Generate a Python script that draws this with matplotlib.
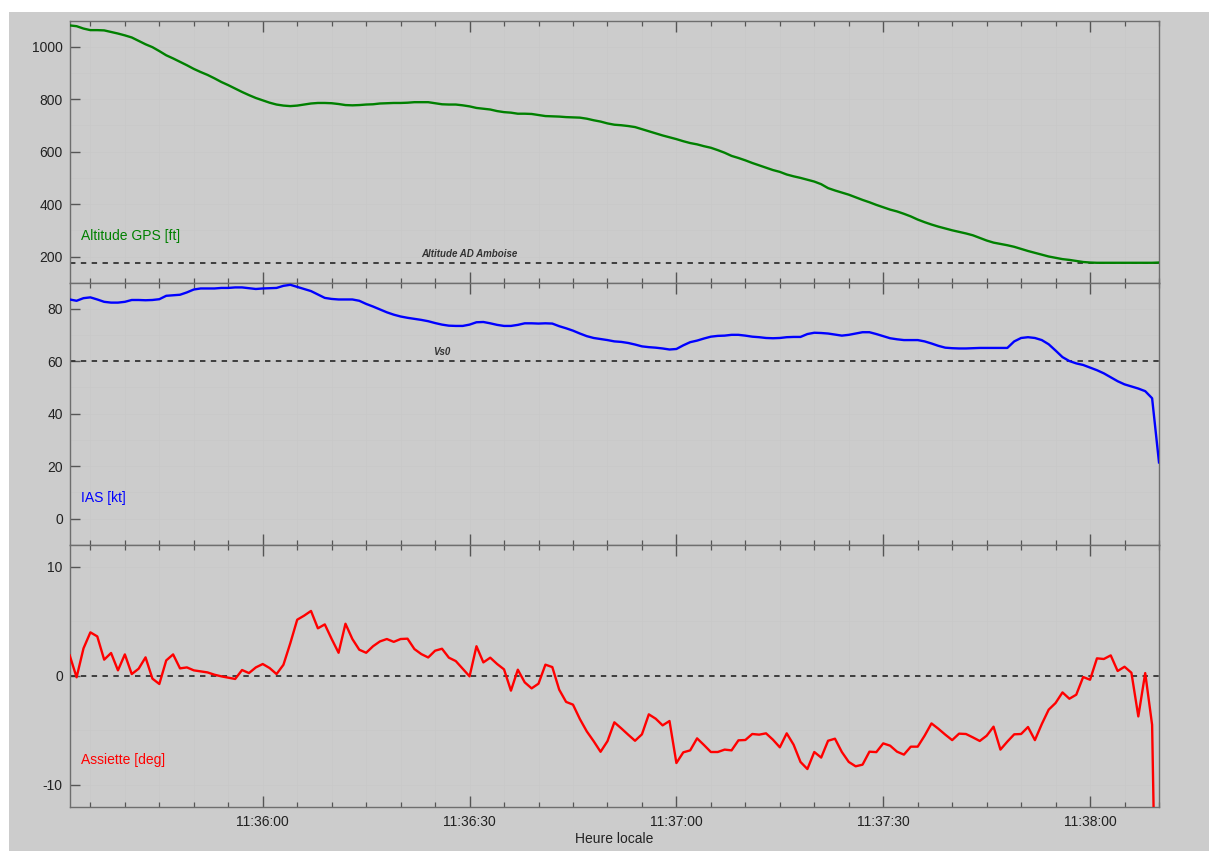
import datetime as dt

import matplotlib
matplotlib.use("Agg")
import matplotlib.pyplot as plt
import matplotlib.dates as mdates
from matplotlib.patches import Rectangle
from matplotlib.ticker import MultipleLocator

plt.rcParams["font.family"] = ["Liberation Sans", "DejaVu Sans"]
plt.rcParams["axes.unicode_minus"] = False

# One sample per second, starting at 11:35:32 local time
START = dt.datetime(2020, 1, 1, 11, 35, 32)

altitude_ft = [
    1082, 1079, 1070, 1064, 1064, 1063, 1057, 1051, 1044, 1036,
    1023, 1010, 999, 984, 968, 956, 943, 930, 916, 904,
    893, 880, 866, 854, 841, 828, 816, 805, 796, 787,
    780, 776, 774, 776, 780, 784, 786, 786, 785, 782,
    778, 777, 778, 780, 781, 784, 785, 786, 786, 787,
    789, 789, 789, 785, 781, 780, 780, 777, 773, 767,
    764, 761, 755, 751, 749, 745, 745, 744, 740, 736,
    735, 734, 732, 731, 730, 726, 720, 715, 708, 703,
    701, 698, 694, 686, 678, 670, 662, 655, 648, 640,
    633, 628, 621, 615, 606, 596, 584, 576, 567, 557,
    548, 539, 530, 523, 513, 506, 500, 493, 486, 476,
    461, 452, 444, 436, 426, 416, 407, 397, 388, 379,
    372, 363, 353, 341, 331, 322, 314, 307, 300, 294,
    288, 281, 271, 261, 253, 248, 243, 237, 229, 221,
    214, 207, 200, 195, 190, 187, 183, 179, 177, 176,
    176, 176, 176, 176, 176, 176, 176, 176, 177,
]

ias_kt = [
    83.6, 83.1, 84.1, 84.4, 83.6, 82.7, 82.4, 82.4, 82.7, 83.4,
    83.4, 83.3, 83.4, 83.7, 85.0, 85.2, 85.4, 86.3, 87.4, 87.8,
    87.8, 87.8, 88.0, 88.0, 88.2, 88.2, 87.9, 87.6, 87.8, 87.9,
    88.0, 88.8, 89.2, 88.4, 87.6, 86.8, 85.5, 84.2, 83.8, 83.6,
    83.6, 83.6, 83.1, 81.9, 80.9, 79.8, 78.7, 77.8, 77.1, 76.6,
    76.2, 75.8, 75.3, 74.6, 74.0, 73.6, 73.5, 73.5, 74.0, 74.9,
    75.0, 74.5, 73.9, 73.5, 73.5, 73.9, 74.5, 74.5, 74.4, 74.5,
    74.4, 73.4, 72.6, 71.7, 70.6, 69.6, 68.9, 68.5, 68.1, 67.6,
    67.4, 67.0, 66.4, 65.7, 65.4, 65.2, 64.9, 64.5, 64.7, 66.1,
    67.3, 67.9, 68.7, 69.4, 69.7, 69.8, 70.1, 70.1, 69.8, 69.4,
    69.2, 68.9, 68.8, 68.9, 69.2, 69.3, 69.3, 70.4, 70.9, 70.8,
    70.6, 70.2, 69.8, 70.1, 70.6, 71.1, 71.1, 70.4, 69.6, 68.8,
    68.4, 68.1, 68.1, 68.1, 67.6, 66.8, 65.9, 65.2, 65.0, 64.9,
    64.9, 65.0, 65.1, 65.1, 65.1, 65.1, 65.1, 67.6, 68.9, 69.2,
    68.9, 68.1, 66.5, 64.1, 61.6, 60.1, 59.2, 58.6, 57.6, 56.6,
    55.4, 53.9, 52.4, 51.2, 50.4, 49.6, 48.6, 45.9, 21.4,
]

pitch_deg = [
    1.86, -0.15, 2.5, 3.97, 3.6, 1.47, 2.08, 0.49, 1.95, 0.15,
    0.64, 1.68, -0.27, -0.76, 1.4, 1.95, 0.67, 0.76, 0.49, 0.4,
    0.3, 0.09, -0.06, -0.18, -0.3, 0.52, 0.24, 0.76, 1.07, 0.7,
    0.15, 1.0, 2.98, 5.13, 5.5, 5.93, 4.34, 4.7, 3.36, 2.1,
    4.76, 3.36, 2.38, 2.1, 2.7, 3.14, 3.36, 3.1, 3.36, 3.39,
    2.44, 1.98, 1.67, 2.29, 2.47, 1.65, 1.34, 0.64, -0.06, 2.7,
    1.22, 1.65, 1.07, 0.58, -1.37, 0.55, -0.61, -1.16, -0.73, 1.01,
    0.79, -1.28, -2.4, -2.65, -3.97, -5.1, -6.0, -6.97, -6.0, -4.27,
    -4.82, -5.4, -5.96, -5.37, -3.54, -3.94, -4.55, -4.15, -8.0, -7.02,
    -6.84, -5.74, -6.35, -6.99, -6.99, -6.77, -6.84, -5.92, -5.89, -5.34,
    -5.4, -5.28, -5.86, -6.56, -5.28, -6.32, -7.9, -8.55, -6.99, -7.5,
    -5.96, -5.77, -6.99, -7.9, -8.3, -8.15, -6.96, -7.0, -6.2, -6.41,
    -6.96, -7.23, -6.5, -6.5, -5.5, -4.37, -4.86, -5.4, -5.9, -5.31,
    -5.34, -5.65, -5.98, -5.5, -4.67, -6.77, -6.04, -5.37, -5.34, -4.7,
    -5.9, -4.43, -3.11, -2.5, -1.53, -2.11, -1.74, -0.12, -0.37, 1.59,
    1.53, 1.86, 0.43, 0.82, 0.27, -3.73, 0.24, -4.5, -40.0,
]

times = [START + dt.timedelta(seconds=i) for i in range(len(pitch_deg))]

AD_ALTITUDE_FT = 175   # Amboise aerodrome elevation
VS0_KT = 60            # stall speed, landing configuration
PITCH_REF = 0

BG = "#cccccc"
SPINE = "#6e6e6e"
TEXT = "#222222"

fig = plt.figure(figsize=(12.09, 8.51), dpi=100, facecolor="white")
fig.patches.append(Rectangle((9 / 1209, 0), 1 - 9 / 1209, 1 - 12 / 851,
                             transform=fig.transFigure, facecolor=BG,
                             edgecolor="none", zorder=-10))

gs = fig.add_gridspec(3, 1, left=69.7 / 1209, right=1159 / 1209,
                      top=1 - 20.7 / 851, bottom=1 - 806.7 / 851, hspace=0)
axes = [fig.add_subplot(gs[i]) for i in range(3)]
for ax in axes[1:]:
    ax.sharex(axes[0])

panels = [
    (altitude_ft, "green", "Altitude GPS [ft]", (100, 1100), 200, 100, AD_ALTITUDE_FT),
    (ias_kt, "#0000ff", "IAS [kt]", (-10, 90), 20, 10, VS0_KT),
    (pitch_deg, "#ff0000", "Assiette [deg]", (-12, 12), 10, 5, PITCH_REF),
]

for ax, (vals, color, label, ylim, major, minor, ref) in zip(axes, panels):
    ax.set_facecolor(BG)
    ax.axhline(ref, color="#333333", lw=1.3, ls=(0, (3, 3)), zorder=2)
    ax.plot(times, vals, color=color, lw=1.7, zorder=3)
    ax.set_ylim(*ylim)
    ax.yaxis.set_major_locator(MultipleLocator(major))
    ax.yaxis.set_minor_locator(MultipleLocator(minor))
    ax.grid(True, which="both", color="#c8c8c8", lw=0.5)
    ax.set_axisbelow(True)
    ax.text(0.01, 0.18, label, transform=ax.transAxes, color=color,
            fontsize=10, va="center", ha="left")
    for sp in ax.spines.values():
        sp.set_color(SPINE)
        sp.set_linewidth(1.0)
    ax.tick_params(axis="x", which="major", direction="in", length=8,
                   width=1.0, color="#555555", top=True, bottom=True,
                   labelsize=10, labelcolor=TEXT, pad=6)
    ax.tick_params(axis="x", which="minor", direction="in", length=3.5,
                   width=0.9, color="#555555", top=True, bottom=True)
    ax.tick_params(axis="y", which="major", direction="in", length=7,
                   width=1.0, color="#555555", labelsize=10, labelcolor=TEXT,
                   pad=5)
    ax.tick_params(axis="y", which="minor", length=0)

ax0 = axes[0]
ax0.set_xlim(times[0], times[-1])
ax0.xaxis.set_major_locator(mdates.SecondLocator(bysecond=[0, 30]))
ax0.xaxis.set_minor_locator(mdates.SecondLocator(bysecond=range(0, 60, 5)))
ax0.xaxis.set_major_formatter(mdates.DateFormatter("%H:%M:%S"))
for ax in axes[:2]:
    ax.tick_params(axis="x", labelbottom=False)

axes[2].set_xlabel("Heure locale", fontsize=10, color=TEXT, labelpad=2)

axes[0].annotate("Altitude AD Amboise", xy=(START + dt.timedelta(seconds=58), AD_ALTITUDE_FT),
                 xytext=(0, 3), textcoords="offset points", ha="center",
                 va="bottom", fontsize=7, fontweight="bold", style="italic",
                 color="#333333")
axes[1].annotate("Vs0", xy=(START + dt.timedelta(seconds=54), VS0_KT),
                 xytext=(0, 3), textcoords="offset points", ha="center",
                 va="bottom", fontsize=7, fontweight="bold", style="italic",
                 color="#333333")

fig.savefig("out.png", dpi=100, facecolor=fig.get_facecolor())
